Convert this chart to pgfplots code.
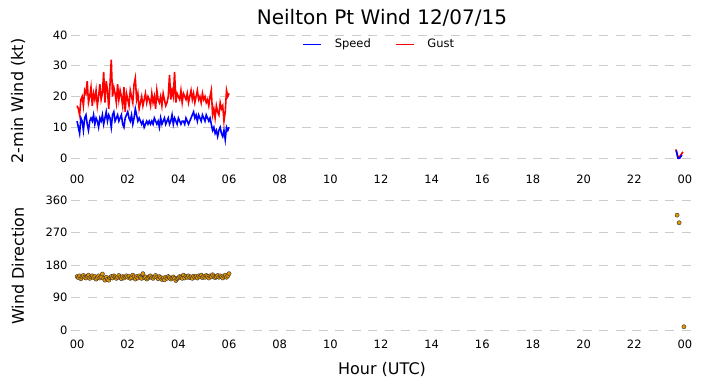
\documentclass[border=0pt]{standalone}
\usepackage{fontspec}
\setmainfont{DejaVu Sans}
\usepackage{pgfplots}
\usepackage{pgfplotstable}
\pgfplotsset{compat=1.18}
\definecolor{gridc}{RGB}{204,204,204}
\definecolor{dirfill}{RGB}{228,148,0}

\pgfplotstableread{
m s
0 12
3 10
6 8
9 13
12 12
15 9
18 13
21 14
24 11
27 9
30 12
33 13
36 12
39 14
42 11
45 13
48 12
51 10
54 13
57 12
60 14
63 11
66 13
69 15
72 12
75 14
78 13
81 10
84 14
87 15
90 12
93 13
96 14
99 12
102 13
105 14
108 11
111 10
114 13
117 14
120 15
123 13
126 12
129 14
132 11
135 13
138 16
141 14
144 12
147 13
150 12
153 11
156 12
159 10
162 11
165 12
168 11
171 12
174 11
177 12
180 11
183 13
186 12
189 11
192 12
195 10
198 13
201 11
204 12
207 13
210 11
213 12
216 13
219 11
222 12
225 14
228 11
231 13
234 12
237 11
240 13
243 12
246 11
249 12
252 12
255 11
258 13
261 12
264 11
267 12
270 13
273 14
276 15
279 13
282 14
285 12
288 14
291 13
294 12
297 14
300 13
303 12
306 14
309 13
312 12
315 13
318 11
321 9
324 10
327 8
330 9
333 7
336 9
339 10
342 8
345 7
348 9
351 6
354 10
357 9
360 10
}\speed

\pgfplotstableread{
m g
0 17
3 16
6 14
9 19
12 20
15 17
18 22
21 21
24 25
27 18
30 20
33 23
36 17
39 21
42 19
45 22
48 17
51 20
54 24
57 19
60 21
63 28
66 18
69 25
72 22
75 16
78 24
81 32
84 20
87 23
90 21
93 18
96 24
99 19
102 22
105 20
108 17
111 23
114 15
117 21
120 19
123 17
126 22
129 20
132 18
135 24
138 26
141 19
144 21
147 16
150 18
153 20
156 17
159 19
162 21
165 18
168 20
171 19
174 17
177 21
180 18
183 20
186 16
189 22
192 19
195 18
198 20
201 17
204 21
207 19
210 17
213 18
216 20
219 27
222 19
225 22
228 20
231 28
234 18
237 21
240 20
243 19
246 22
249 18
252 21
255 20
258 19
261 21
264 18
267 20
270 22
273 19
276 21
279 18
282 20
285 22
288 19
291 20
294 18
297 21
300 19
303 20
306 18
309 19
312 17
315 20
318 22
321 14
324 16
327 13
330 17
333 15
336 14
339 18
342 16
345 17
348 12
351 15
354 22
357 20
360 21
}\gust

\pgfplotstableread{
m d
0 148
3 145
6 150
9 142
12 147
15 151
18 146
21 144
24 149
27 152
30 143
33 147
36 150
39 145
42 148
45 141
48 146
51 150
54 144
57 147
60 155
63 143
66 138
69 146
72 140
75 138
78 145
81 148
84 144
87 150
90 147
93 143
96 146
99 151
102 145
105 142
108 148
111 144
114 147
117 150
120 146
123 149
126 143
129 145
132 152
135 147
138 141
141 148
144 144
147 150
150 146
153 143
156 156
159 145
162 147
165 141
168 144
171 148
174 150
177 145
180 143
183 147
186 151
189 146
192 142
195 148
198 145
201 140
204 144
207 139
210 146
213 143
216 148
219 145
222 141
225 144
228 147
231 143
234 137
237 142
240 145
243 148
246 146
249 143
252 152
255 144
258 149
261 146
264 150
267 145
270 147
273 143
276 149
279 146
282 148
285 144
288 150
291 147
294 152
297 145
300 149
303 146
306 151
309 148
312 144
315 150
318 147
321 153
324 149
327 145
330 148
333 151
336 146
339 150
342 147
345 144
348 149
351 152
354 146
357 150
360 156
}\dir

\begin{document}
\begin{tikzpicture}[x=1pt,y=1pt]
\useasboundingbox (0,0) rectangle (702,388);
\pgfplotsset{
  myax/.style={
    scale only axis, width=620pt, anchor=south west,
    xmin=-0.24, xmax=24.24,
    axis line style={draw=none},
    major tick length=0pt,
    ymajorgrids, xmajorgrids=false,
    grid style={gridc, line width=0.9pt, dash pattern=on 9pt off 7.5pt},
    xtick={0,2,...,24},
    xticklabels={00,02,04,06,08,10,12,14,16,18,20,22,00},
    tick label style={font=\fontsize{11.5}{13}\selectfont},
    xticklabel style={text height=8.4pt, text depth=0pt},
    /pgf/number format/assume math mode=true,
    clip=false,
  }
}
\begin{axis}[myax, at={(71pt,230pt)}, height=123pt,
  ymin=0, ymax=40, ytick={0,10,20,30,40},
  xticklabel style={yshift=-14pt},
  legend style={draw=none, fill=none, at={(0.497,1.0)}, anchor=north,
    legend columns=2, font=\fontsize{11.5}{13}\selectfont,
    /tikz/every odd column/.append style={column sep=11pt},
    /tikz/every even column/.append style={column sep=22pt}},
  legend image code/.code={\draw[#1] (0pt,0pt) -- (18pt,0pt);},
]
\addplot[blue, line width=1.6pt] table[x expr=\thisrow{m}/60, y=s] {\speed};
\addlegendentry{Speed}
\addplot[red, line width=1.6pt] table[x expr=\thisrow{m}/60, y=g] {\gust};
\addlegendentry{Gust}
\addplot[red, line width=1.6pt, forget plot] coordinates {(23.64,2.8) (23.70,1) (23.76,0) (23.84,1) (23.92,2)};
\addplot[blue, line width=1.6pt, forget plot] coordinates {(23.66,2.5) (23.72,0) (23.80,0) (23.88,1.0)};
\end{axis}
\begin{axis}[myax, at={(71pt,58pt)}, height=130pt,
  ymin=0, ymax=360, ytick={0,90,180,270,360},
  xticklabel style={yshift=-7pt},
]
\addplot[only marks, mark=*, mark size=2.1pt, mark options={fill=dirfill, draw=black!80, line width=0.4pt}] table[x expr=\thisrow{m}/60, y=d] {\dir};
\addplot[only marks, mark=*, mark size=2.1pt, mark options={fill=dirfill, draw=black!80, line width=0.4pt}] coordinates {(23.69,318) (23.77,297) (23.96,9)};
\end{axis}
\node[font=\fontsize{20}{24}\selectfont] at (382,370) {Neilton Pt Wind 12/07/15};
\node[font=\fontsize{16}{19}\selectfont, rotate=90] at (18,287) {2-min Wind (kt)};
\node[font=\fontsize{16}{19}\selectfont, rotate=90] at (18,122) {Wind Direction};
\node[font=\fontsize{16}{19}\selectfont] at (382,19) {Hour (UTC)};
\end{tikzpicture}
\end{document}
